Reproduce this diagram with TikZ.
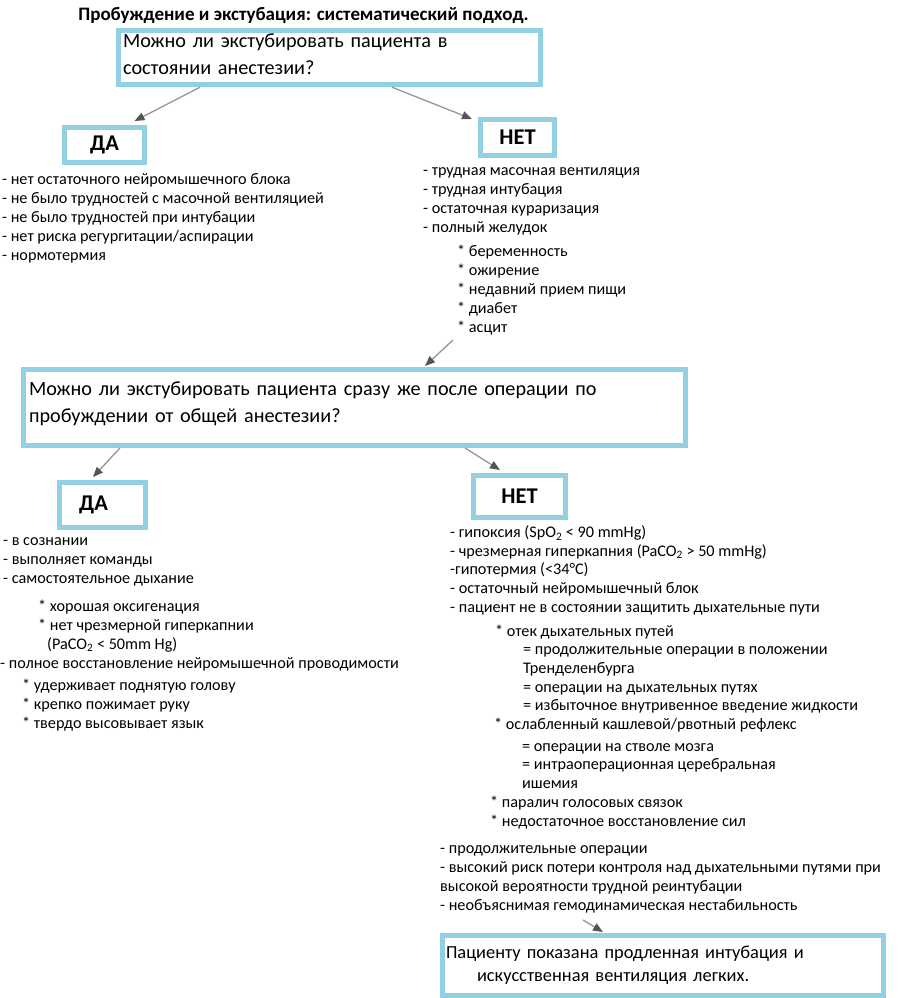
\documentclass[tikz,border=0pt]{standalone}
\usepackage{fontspec}
\setmainfont{Carlito}
\usetikzlibrary{arrows.meta}

\definecolor{boxblue}{RGB}{147,207,227}
\definecolor{arrgray}{RGB}{150,150,150}
\definecolor{arrtip}{RGB}{85,85,85}

\tikzset{
  qbox/.style={draw=boxblue, line width=5pt, fill=white, align=left,
    font=\fontsize{20.2}{27}\selectfont},
  ansbox/.style={draw=boxblue, line width=5pt, fill=white,
    font=\fontsize{22.5}{24}\selectfont\bfseries},
  lst/.style={anchor=north west, inner sep=0pt, align=left,
    font=\fontsize{16.2}{19}\selectfont},
  arr/.style={draw=arrgray, line width=1.3pt,
    -{Triangle[length=10pt,width=8pt,color=arrtip]}}
}

\begin{document}
\begin{tikzpicture}[x=1pt, y=-1pt]

  \useasboundingbox (0,0) rectangle (903,998);

  % Titel
  \node[font=\fontsize{19}{22}\selectfont\bfseries] (title) at (303.5,15)
    {Пробуждение и экстубация: систематический подход.};

  % --- erste Frage ---
  \node[qbox, minimum width=422pt, minimum height=54pt,
        inner xsep=4.5pt, text width=413pt] (q1) at (329.5,57.5)
    {Можно ли экстубировать пациента в\\состоянии анестезии?\\[-20pt]~};

  \node[ansbox, minimum width=80pt, minimum height=35pt] (da1) at (104.5,145) {ДА};
  \node[ansbox, minimum width=74pt, minimum height=36pt] (net1) at (517.5,137.5) {НЕТ};

  \node[lst] (da1list) at (2,173)
    {- нет остаточного нейромышечного блока\\
     - не было трудностей с масочной вентиляцией\\
     - не было трудностей при интубации\\
     - нет риска регургитации/аспирации\\
     - нормотермия};

  \node[lst] (net1list) at (423,167)
    {- трудная масочная вентиляция\\
     - трудная интубация\\
     - остаточная кураризация\\
     - полный желудок\\[5pt]
     \hspace*{34pt}* беременность\\
     \hspace*{34pt}* ожирение\\
     \hspace*{34pt}* недавний прием пищи\\
     \hspace*{34pt}* диабет\\
     \hspace*{34pt}* асцит};

  % --- zweite Frage ---
  \coordinate (a3s) at (453,340);
  \node[qbox, minimum width=662pt, minimum height=76pt,
        inner xsep=5.5pt, text width=651pt] (q2) at (354.5,407.5)
    {Можно ли экстубировать пациента сразу же после операции по\\
     пробуждении от общей анестезии?\\[-16pt]~};

  \node[ansbox, minimum width=86pt, minimum height=45pt] (da2) at (102.5,505)
    {ДА\hspace*{18pt}};
  \node[ansbox, minimum width=92pt, minimum height=42pt] (net2) at (519.5,496.5) {НЕТ};

  \node[lst] (da2list) at (3,537)
    {- в сознании\\
     - выполняет команды\\
     - самостоятельное дыхание\\[9pt]
     \hspace*{35pt}* хорошая оксигенация\\
     \hspace*{35pt}* нет чрезмерной гиперкапнии\\
     \hspace*{44pt}(PaCO\textsubscript{2} < 50mm Hg)\\
     \hspace*{-3pt}- полное восстановление нейромышечной проводимости\\[3pt]
     \hspace*{19pt}* удерживает поднятую голову\\
     \hspace*{19pt}* крепко пожимает руку\\
     \hspace*{19pt}* твердо высовывает язык};

  \node[lst, font=\fontsize{16.2}{18.7}\selectfont] (net2list) at (450,525.5)
    {- гипоксия (SpO\textsubscript{2} < 90 mmHg)\\
     - чрезмерная гиперкапния (PaCO\textsubscript{2} > 50 mmHg)\\
     -гипотермия (<34°C)\\
     - остаточный нейромышечный блок\\
     - пациент не в состоянии защитить дыхательные пути\\[5pt]
     \hspace*{45pt}* отек дыхательных путей\\
     \hspace*{73pt}= продолжительные операции в положении\\
     \hspace*{73pt}Тренделенбурга\\
     \hspace*{73pt}= операции на дыхательных путях\\
     \hspace*{73pt}= избыточное внутривенное введение жидкости\\
     \hspace*{44pt}* ослабленный кашлевой/рвотный рефлекс\\[3pt]
     \hspace*{72pt}= операции на стволе мозга\\
     \hspace*{72pt}= интраоперационная церебральная\\
     \hspace*{72pt}ишемия\\
     \hspace*{40pt}* паралич голосовых связок\\
     \hspace*{40pt}* недостаточное восстановление сил};

  \node[lst] (extlist) at (440,845)
    {- продолжительные операции\\
     - высокий риск потери контроля над дыхательными путями при\\
     высокой вероятности трудной реинтубации\\
     - необъяснимая гемодинамическая нестабильность};

  % --- Ergebnis ---
  \coordinate (a6s) at (583,920);
  \node[qbox, minimum width=441pt, minimum height=60pt,
        inner xsep=3.5pt, text width=434pt,
        font=\fontsize{18.4}{23}\selectfont] (fin) at (663,965.5)
    {Пациенту показана продленная интубация и\\
     \hspace*{31pt}искусственная вентиляция легких.};

  % Pfeile
  \draw[arr] ([xshift=-129.5pt]q1.south) -- ([xshift=30pt,yshift=4pt]da1.north);
  \draw[arr] ([xshift=62.5pt]q1.south) -- ([xshift=-45.5pt,yshift=-2pt]net1.north);
  \draw[arr] (a3s) -- ([xshift=70.5pt,yshift=1pt]q2.north);
  \draw[arr] ([xshift=-234.5pt]q2.south) -- ([xshift=-9.5pt,yshift=3pt]da2.north);
  \draw[arr] ([xshift=110.5pt]q2.south) -- ([xshift=-19.5pt,yshift=3pt]net2.north);
  \draw[arr] (a6s) -- ([xshift=-60pt,yshift=1pt]fin.north);

\end{tikzpicture}
\end{document}
